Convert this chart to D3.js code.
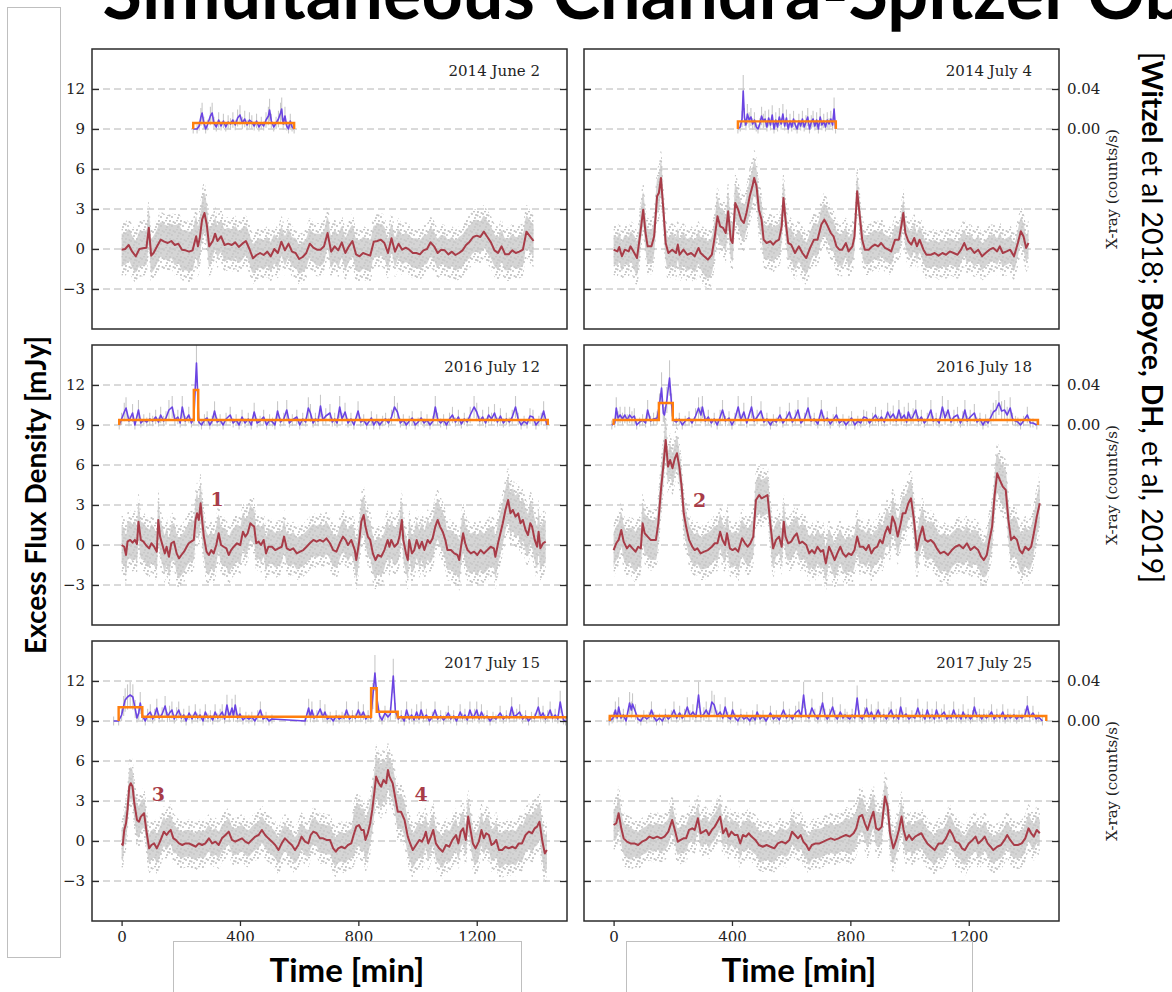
<!DOCTYPE html>
<html><head><meta charset="utf-8">
<script src="https://cdn.jsdelivr.net/npm/d3@7"></script>
<style>body{margin:0;background:#fff}svg{display:block}</style>
</head><body>
<svg id="chart" width="1172" height="992"></svg>
<script>
// ---------------- DATA ----------------
// Infrared excess flux density (mJy), running median: [time (min), flux]
const fluxJun2014 = [[0,-0.05],[12,0],[24,0.3],[36,-0.2],[48,-0.55],[60,0],[72,0.05],[84,0.1],[92,1.6],[100,-0.5],[108,-0.3],[120,0.2],[132,0.7],[144,0.55],[156,0.45],[168,0.6],[180,0.3],[192,0.4],[204,-0.05],[216,-0.1],[228,-0.2],[240,-0.1],[252,0.95],[258,0.2],[264,0.8],[272,2.2],[280,2.7],[288,1.8],[296,0.2],[308,0.6],[316,1.15],[324,0.6],[336,0.95],[348,0.3],[360,0.4],[372,0.3],[384,0.5],[396,0.15],[408,0.4],[420,0.6],[432,0],[444,-0.7],[456,-0.45],[468,-0.3],[480,-0.45],[492,-0.2],[504,-0.55],[516,0],[528,-0.3],[540,0.55],[552,-0.1],[564,0.4],[576,-0.2],[588,-0.3],[600,-0.75],[612,-0.6],[624,-0.3],[636,0.4],[648,0.1],[660,-0.05],[672,-0.05],[684,0.2],[696,1.2],[708,-0.2],[720,0.2],[732,-0.1],[744,0.5],[756,-0.3],[768,0.2],[780,0.6],[792,-0.4],[804,-0.55],[816,-0.3],[828,-0.4],[840,-0.5],[852,0.55],[864,0.6],[876,0.7],[888,0.45],[900,-0.3],[912,0.8],[924,-0.2],[936,0.4],[948,-0.05],[960,0.1],[972,-0.05],[984,-0.3],[996,-0.3],[1008,-0.4],[1020,-0.1],[1032,0],[1044,0.5],[1056,0.2],[1068,-0.3],[1080,-0.05],[1092,-0.1],[1104,-0.4],[1116,-0.2],[1128,-0.45],[1140,-0.3],[1152,-0.1],[1164,0.3],[1176,0.55],[1188,0.9],[1200,1.0],[1212,0.9],[1224,1.3],[1236,0.9],[1248,0.5],[1260,-0.1],[1272,-0.3],[1284,0.2],[1296,-0.4],[1308,-0.4],[1320,-0.1],[1332,-0.3],[1344,-0.2],[1356,-0.05],[1368,1.3],[1380,0.95],[1392,0.6]];
const fluxJul2014 = [[0,-0.05],[13,-0.18],[19,0.15],[28,-0.55],[38,-0.05],[51,-0.18],[57,0.2],[70,-0.3],[79,-0.68],[89,0.95],[100,2.95],[108,1.2],[115,0.2],[128,0.2],[137,0.95],[147,3.95],[153,4.2],[160,5.33],[169,2.7],[176,0.45],[185,-0.3],[198,-0.05],[211,-0.3],[217,0.33],[223,-0.43],[236,-0.05],[249,-0.43],[262,-0.3],[274,-0.55],[287,0.08],[294,-0.3],[306,-0.55],[319,-0.8],[332,-0.43],[342,0.95],[351,2.45],[360,1.7],[370,1.58],[379,1.2],[387,2.83],[396,0.7],[402,0.45],[411,3.45],[421,2.95],[431,2.2],[440,1.95],[449,2.7],[460,3.95],[469,4.7],[475,5.33],[483,4.7],[491,2.95],[500,2.2],[507,0.7],[517,0.45],[530,0.58],[539,0.33],[549,0.58],[559,0.7],[568,1.7],[574,3.83],[582,1.95],[590,0.45],[600,0.33],[613,-0.3],[626,0.2],[638,-0.3],[651,-0.68],[664,0.08],[677,0.7],[689,0.7],[702,1.83],[712,2.2],[721,1.83],[734,1.2],[743,0.95],[753,0.2],[763,-0.05],[772,-0.05],[785,0.45],[794,-0.18],[807,0.2],[814,0.95],[823,4.33],[832,2.45],[840,0.7],[849,-0.05],[862,-0.05],[874,0.2],[883,0.33],[894,0.2],[904,0.45],[917,0.08],[929,-0.05],[938,-0.18],[951,0.7],[964,0.7],[973,1.83],[979,2.7],[986,1.2],[996,0.58],[1006,0.33],[1016,0.83],[1025,0.2],[1034,0.7],[1047,-0.05],[1057,-0.43],[1072,-0.43],[1085,-0.3],[1098,-0.5],[1111,-0.3],[1123,-0.43],[1136,-0.18],[1149,-0.3],[1162,-0.43],[1174,-0.05],[1185,0.45],[1194,-0.05],[1206,0.08],[1219,-0.3],[1232,-0.05],[1245,-0.55],[1257,-0.3],[1270,-0.05],[1283,0.08],[1296,-0.18],[1305,0.2],[1315,-0.3],[1328,-0.18],[1340,-0.05],[1353,-0.55],[1366,0.45],[1376,1.33],[1385,0.95],[1394,0.08],[1402,0.45]];
const fluxJul12_2016 = [[0,0],[9,-0.13],[15,-0.75],[20,0.25],[29,0.38],[37,0.18],[45,0.38],[52,0.08],[57,1.75],[65,0.38],[74,0.25],[82,0],[93,-0.25],[101,0.13],[110,-0.13],[119,-0.5],[124,1.88],[130,0.63],[138,0],[146,-0.63],[152,-0.13],[160,-0.88],[168,0.13],[177,0.25],[186,-0.63],[194,-1.0],[202,-0.75],[211,-0.5],[220,-0.13],[227,0.13],[235,0.25],[244,0.38],[250,1.88],[255,2.38],[261,1.88],[267,3.13],[272,1.88],[278,0.63],[287,-0.5],[295,-0.75],[303,-0.38],[311,-0.63],[320,0],[328,0.88],[336,0],[345,-0.13],[354,-0.25],[362,-0.75],[370,-0.38],[379,-0.13],[390,0.13],[401,0],[410,1.0],[418,0.63],[426,0.88],[435,1.63],[441,1.5],[448,1.38],[455,0.13],[463,0.25],[471,0],[480,0.38],[488,-0.63],[496,-0.13],[508,-0.13],[519,-0.38],[530,-0.25],[541,-0.13],[549,0.63],[558,-0.25],[569,-0.38],[580,-0.25],[592,-0.63],[603,-0.5],[614,-0.38],[625,-0.13],[636,0.13],[648,0.38],[659,0.25],[670,0.38],[681,0.25],[692,0.5],[704,0.13],[715,-0.38],[726,-0.5],[737,0.13],[748,0.63],[757,0.38],[765,0],[776,0.38],[788,-0.38],[793,-1.13],[802,0.13],[810,1.75],[818,2.25],[824,1.38],[832,0.63],[840,0.38],[849,-0.63],[858,-1.13],[866,-0.75],[877,-0.88],[888,-0.38],[899,0.38],[905,-0.13],[911,0.38],[922,-0.13],[933,0.13],[939,0.63],[947,1.88],[952,0.38],[961,-0.63],[967,-1.13],[972,0.38],[981,-0.63],[989,-0.38],[997,0.38],[1006,-0.25],[1015,0.25],[1023,-0.38],[1034,0.38],[1042,0.13],[1051,0.5],[1060,1.38],[1068,1.88],[1076,1.38],[1085,1.0],[1094,0.38],[1101,-0.38],[1113,-0.38],[1124,-0.63],[1135,-0.75],[1141,-1.13],[1146,-0.25],[1154,0.88],[1161,0.13],[1169,-0.38],[1180,-0.63],[1191,-0.5],[1202,-0.75],[1213,-0.38],[1224,-0.63],[1236,-0.38],[1247,-0.13],[1258,-0.25],[1263,-0.88],[1272,0.13],[1280,0.88],[1288,1.63],[1297,2.63],[1306,3.38],[1314,2.38],[1322,2.63],[1331,2.13],[1340,2.38],[1348,1.63],[1356,1.88],[1365,1.13],[1373,0.75],[1381,1.63],[1387,1.38],[1396,0.38],[1404,-0.13],[1409,1.0],[1415,-0.25],[1424,0.13],[1433,0.25]];
const fluxJul18_2016 = [[0,-0.38],[9,0.13],[17,0.38],[26,1.13],[34,0.25],[45,-0.25],[54,0],[64,-0.25],[74,-0.5],[83,-0.13],[92,-0.25],[98,1.63],[105,0.88],[115,0.63],[125,0.38],[135,0.38],[143,0.38],[151,1.63],[160,4.13],[169,6.13],[176,7.88],[184,5.88],[191,6.38],[199,5.75],[207,6.5],[214,6.88],[222,5.88],[230,4.38],[237,2.38],[245,1.38],[255,0.38],[266,-0.13],[274,-0.38],[283,-0.25],[294,-0.63],[306,-0.5],[319,-0.38],[332,-0.13],[342,0.13],[351,0.13],[360,1.0],[368,0.38],[377,0],[383,0.88],[393,-0.25],[402,-0.38],[411,-0.25],[421,-0.5],[434,0.5],[444,0.13],[453,-0.13],[462,0.13],[472,0.63],[481,3.38],[492,3.75],[500,3.5],[511,3.63],[520,3.75],[530,1.5],[539,-0.25],[549,0.38],[559,0.63],[568,-0.13],[575,1.75],[581,0.63],[590,0.13],[600,0.25],[610,0.63],[619,0.88],[628,0.13],[638,0.25],[651,0],[661,-0.63],[670,-0.38],[679,-0.63],[689,-0.13],[700,-0.5],[708,-0.38],[717,-1.38],[728,-0.13],[738,-0.63],[747,-1.13],[756,-0.63],[766,-0.13],[775,-0.63],[785,-0.88],[794,-0.63],[804,-0.75],[814,-0.38],[823,0.63],[832,-0.13],[843,-0.13],[853,-0.38],[862,0],[871,-0.63],[881,-0.25],[891,-0.13],[900,0.38],[909,0.13],[917,0.88],[926,1.38],[934,0.88],[942,2.13],[951,1.63],[960,0.63],[968,1.38],[977,2.38],[986,2.38],[996,3.13],[1005,3.5],[1015,1.88],[1025,-0.38],[1034,0.63],[1044,1.38],[1053,0.38],[1062,0.25],[1072,0.38],[1083,0.13],[1092,-0.25],[1104,-0.63],[1117,-0.5],[1130,-0.75],[1143,-0.38],[1155,-0.13],[1168,0],[1181,-0.25],[1194,0.13],[1206,-0.38],[1219,-0.13],[1232,-0.38],[1242,-0.88],[1251,-1.13],[1261,-0.75],[1270,0.38],[1279,1.38],[1287,3.63],[1296,5.38],[1305,4.88],[1315,4.38],[1325,4.13],[1334,1.88],[1343,0.38],[1353,0.63],[1363,0.38],[1372,-0.38],[1381,-0.63],[1391,-0.13],[1402,-0.38],[1411,-0.13],[1420,0.88],[1430,2.13],[1440,3.13]];
const fluxJul15_2017 = [[0,-0.18],[4,-0.3],[9,0.83],[15,1.33],[20,2.33],[26,4.08],[31,4.33],[37,4.08],[43,2.83],[52,1.58],[59,1.45],[65,1.83],[76,2.08],[85,0.58],[93,-0.55],[101,-0.3],[110,-0.18],[119,-0.55],[127,-0.18],[134,0.2],[143,0.7],[152,0.45],[160,0.7],[166,0.83],[175,0.2],[183,0.08],[194,-0.18],[205,-0.3],[216,-0.18],[227,-0.18],[239,-0.3],[250,-0.43],[261,-0.18],[272,-0.3],[283,-0.18],[295,0.2],[306,-0.18],[317,-0.05],[328,-0.3],[339,0.2],[351,0.45],[362,0.7],[373,0.08],[384,-0.05],[396,0.08],[407,0.2],[418,-0.05],[429,-0.18],[440,0.08],[452,0.33],[463,0.45],[474,0.83],[485,0.45],[496,0.2],[508,-0.05],[519,-0.3],[530,-0.68],[541,-0.18],[552,0.2],[563,-0.05],[575,-0.3],[586,-0.68],[597,-0.3],[608,0.33],[620,-0.05],[631,-0.18],[639,0.45],[648,0.7],[659,0.58],[670,0.2],[681,0.2],[692,0.08],[704,0.08],[715,-0.55],[724,-0.8],[732,-0.55],[743,-0.43],[754,-0.55],[765,-0.3],[776,-0.18],[784,0.45],[793,1.08],[802,1.2],[810,0.83],[818,0.83],[824,0.08],[832,0.58],[840,1.33],[847,2.33],[855,3.83],[860,4.83],[869,4.33],[877,4.08],[885,4.58],[894,4.33],[900,5.33],[905,4.83],[916,4.33],[926,3.08],[933,2.2],[944,2.2],[956,1.58],[967,0.33],[975,-0.18],[984,-0.68],[995,-0.3],[1006,0.08],[1015,-0.05],[1023,0.33],[1028,0.7],[1036,-0.18],[1045,0.33],[1053,0.83],[1062,-0.18],[1073,-0.55],[1085,-0.8],[1096,-0.3],[1107,-0.43],[1118,0.08],[1130,0.45],[1138,-0.18],[1146,0.7],[1154,0.95],[1163,0.08],[1171,1.83],[1179,0.83],[1187,-0.18],[1196,-0.55],[1207,-0.05],[1216,0.83],[1224,0.2],[1232,0.58],[1241,0.45],[1250,-0.3],[1258,-0.18],[1266,0.08],[1275,-0.68],[1286,-0.68],[1297,-0.43],[1308,-0.55],[1320,-0.43],[1331,-0.55],[1342,-0.18],[1353,-0.18],[1365,0.45],[1376,0.7],[1387,0.58],[1396,0.95],[1404,1.08],[1412,1.45],[1421,0.08],[1430,-0.93],[1437,-0.68]];
const fluxJul25_2017 = [[0,1.2],[9,1.33],[17,2.08],[26,0.95],[34,0.2],[45,-0.05],[57,-0.18],[70,-0.18],[83,-0.3],[96,-0.05],[109,0.08],[121,0.33],[134,0.2],[147,0.33],[160,0.2],[172,0.33],[185,0.7],[198,1.58],[207,0.83],[217,-0.05],[227,0.08],[236,0.2],[245,0.2],[255,0.83],[266,0.95],[274,0.83],[285,1.7],[294,0.58],[304,0.7],[313,0.83],[322,0.45],[332,0.83],[342,1.08],[351,1.45],[360,1.83],[370,0.58],[380,0.95],[389,0.33],[398,0.7],[409,0.45],[419,0.45],[428,-0.18],[437,0.45],[447,0.33],[457,0.58],[466,0.33],[479,0.08],[491,-0.3],[504,-0.43],[517,-0.3],[530,-0.43],[543,-0.55],[555,-0.18],[568,-0.05],[581,-0.18],[594,0.08],[603,0.7],[613,0.45],[623,0.2],[632,0.45],[641,-0.05],[651,-0.3],[660,-0.68],[670,-0.3],[683,-0.18],[696,-0.18],[709,-0.05],[721,0.08],[734,0.2],[747,0.08],[760,0.2],[772,0.33],[785,0.45],[798,0.33],[811,0.58],[820,0.95],[830,1.83],[840,1.95],[849,1.33],[858,0.83],[868,1.58],[878,2.2],[887,0.95],[896,0.83],[906,1.08],[917,3.33],[926,2.58],[934,0.58],[945,-0.55],[955,0.08],[964,0.83],[973,1.83],[980,0.83],[989,0.08],[998,0.45],[1009,0.08],[1019,0.33],[1028,0.45],[1040,0.58],[1049,0.2],[1060,-0.18],[1072,-0.43],[1085,-0.68],[1098,-0.18],[1111,-0.18],[1123,0.2],[1136,0.83],[1146,0.45],[1155,-0.05],[1168,-0.18],[1177,-0.55],[1187,-0.68],[1200,-0.18],[1213,0.08],[1223,0.33],[1232,-0.18],[1245,0.08],[1254,0.33],[1264,-0.18],[1274,-0.43],[1283,-0.68],[1296,-0.43],[1309,-0.3],[1321,0.08],[1330,0.45],[1340,0.08],[1353,-0.3],[1366,-0.3],[1379,-0.18],[1391,0.2],[1402,0.95],[1411,0.58],[1420,0.33],[1430,0.83],[1440,0.58]];

// Half-width (mJy) of the grey cloud of individual measurements, every 120 min (0..1440)
const spreadJun2014   = [1.2,1.3,1.5,1.2,1.1,1.1,1.2,1.2,1.1,1.1,1.2,1.2,1.2];
const spreadJul2014   = [1.1,1.3,1.2,1.4,1.3,1.2,1.2,1.1,1.0,1.0,1.0,1.0,1.0];
const spreadJul12_2016= [1.4,1.4,1.5,1.4,1.3,1.2,1.2,1.4,1.4,1.5,1.5,1.6,1.6];
const spreadJul18_2016= [1.3,1.5,1.2,1.3,1.4,1.3,1.3,1.3,1.3,1.4,1.3,1.5,1.5];
const spreadJul15_2017= [1.2,1.1,1.0,1.0,1.0,1.0,1.1,1.6,1.3,1.2,1.2,1.3,1.4];
const spreadJul25_2017= [1.2,1.0,1.0,1.0,1.1,1.0,1.1,1.3,1.1,1.1,1.1,1.0,1.0];

// X-ray count rate (counts/s): [time (min), rate]
const xrayJun2014 = [[242,0],[255,0],[262,0.003],[268,0.012],[272,0.016],[278,0.006],[284,0],[290,0.004],[300,0.013],[306,0.016],[312,0.006],[320,0.002],[328,0.009],[336,0.003],[344,0.008],[352,0.002],[360,0.007],[368,0.005],[376,0.009],[384,0.004],[392,0.011],[400,0.014],[408,0.006],[416,0.01],[424,0.004],[432,0.009],[440,0.007],[448,0.003],[456,0.008],[464,0.002],[472,0.006],[480,0.003],[488,0.009],[496,0.013],[500,0.019],[506,0.008],[514,0.002],[522,0.006],[530,0.01],[537,0.016],[541,0.02],[546,0.005],[552,0.013],[558,0.003],[564,0],[570,0.008],[576,0.002],[583,0]];
const xrayJul2014 = [[420,0],[428,0.002],[434,0.01],[438,0.038],[442,0.012],[447,0.004],[452,0.015],[458,0.009],[464,0.012],[470,0.005],[476,0.009],[482,0.002],[488,0],[494,0.005],[500,0.013],[506,0.008],[512,0.01],[518,0.002],[524,0.011],[530,0.004],[536,0.014],[542,0],[548,0.009],[554,0.002],[560,0.012],[566,0.005],[572,0.015],[578,0.003],[584,0.011],[590,0],[596,0.008],[602,0.002],[608,0.01],[614,0.004],[620,0],[626,0.008],[632,0.003],[638,0.01],[644,0.002],[650,0.007],[656,0.012],[662,0],[668,0.007],[674,0.01],[680,0.003],[686,0.009],[692,0],[698,0.012],[704,0.004],[710,0.008],[716,0.002],[722,0.009],[728,0.005],[734,0.01],[740,0.004],[745,0.02],[750,0]];
const xrayJul12_2016 = [[-8,0],[0,0.006],[9,0.013],[15,0.017],[25,0.004],[37,0.012],[45,0],[57,0.015],[65,0.002],[75,0.005],[85,0.003],[95,0.006],[105,0.004],[115,0.008],[125,0.003],[132,0.01],[142,0.004],[150,0.007],[160,0.015],[171,0.018],[180,0.005],[190,0.008],[198,0.002],[205,0.018],[215,0.004],[227,0.01],[236,0.002],[244,0.007],[253,0.062],[261,0.003],[270,0],[280,0.005],[289,0.007],[298,0],[306,0.004],[314,0.014],[323,0.003],[333,0.005],[343,0],[353,0.006],[367,0.01],[377,0.002],[387,0.005],[397,0],[407,0.008],[417,0.002],[428,0.006],[438,0],[448,0.013],[458,0.002],[468,0.004],[480,0.008],[490,0],[500,0.005],[510,0.003],[518,0],[527,0.014],[537,0.003],[548,0.006],[558,0.015],[567,0.002],[577,0.005],[592,0.008],[602,0],[612,0.006],[622,0.003],[631,0.017],[638,0.012],[647,0.002],[655,0.006],[664,0.004],[672,0.019],[680,0.005],[690,0.009],[704,0.012],[712,0.003],[720,0.006],[728,0.002],[737,0.018],[745,0.006],[755,0.013],[765,0.002],[775,0.006],[785,0],[799,0.014],[808,0.003],[818,0.005],[828,0],[844,0.007],[852,0],[862,0.005],[872,0],[882,0.004],[892,0.006],[902,0.002],[912,0.008],[922,0.018],[932,0.013],[942,0.002],[952,0.005],[962,0],[972,0.004],[982,0.007],[992,0],[1002,0.003],[1012,0.007],[1022,0.002],[1032,0.005],[1042,0],[1052,0.004],[1060,0.018],[1068,0.006],[1078,0.002],[1088,0.005],[1098,0],[1108,0.006],[1118,0.01],[1128,0.003],[1138,0.008],[1148,0.001],[1158,0.006],[1168,0.003],[1178,0.01],[1191,0.018],[1200,0.013],[1210,0.004],[1220,0.008],[1230,0.002],[1240,0.01],[1250,0.006],[1260,0.012],[1270,0.003],[1280,0.009],[1290,0.002],[1300,0.006],[1310,0.003],[1320,0.008],[1331,0.018],[1340,0.006],[1350,0],[1360,0.004],[1370,0.001],[1380,0.009],[1390,0.008],[1400,0],[1410,0.004],[1418,0.006],[1426,0.014],[1437,0]];
const xrayJul18_2016 = [[-6,0],[4,0.002],[9,0.017],[15,0.007],[22,0.01],[30,0.006],[38,0.01],[46,0.005],[54,0.01],[62,0.007],[70,0.009],[78,0],[88,0.003],[98,0.005],[108,0.002],[115,0.015],[125,0.004],[135,0.006],[147,0.007],[155,0.02],[162,0.037],[168,0.012],[172,0.01],[180,0.025],[189,0.047],[196,0.02],[202,0.005],[212,0.003],[222,0.006],[232,0],[242,0.004],[255,0.007],[265,0.002],[277,0.009],[287,0.017],[295,0.01],[300,0.018],[310,0.004],[320,0.008],[330,0.002],[340,0.006],[350,0],[360,0.008],[368,0.015],[378,0.004],[390,0.007],[400,0],[410,0.006],[421,0.018],[430,0.005],[440,0.013],[450,0.002],[466,0.018],[475,0.004],[485,0.008],[498,0.014],[508,0.003],[518,0.006],[530,0],[540,0.005],[550,0.003],[562,0.01],[572,0.002],[584,0.007],[594,0.013],[604,0.003],[614,0.008],[623,0.015],[633,0.002],[645,0.006],[657,0.017],[667,0.004],[678,0.006],[690,0.001],[702,0.015],[712,0.004],[722,0.007],[732,0.001],[742,0.005],[753,0.01],[763,0.002],[775,0.005],[785,0],[795,0.004],[804,0.007],[815,0],[825,0.004],[835,0.002],[845,0.008],[855,0.007],[865,0.002],[875,0.006],[885,0.01],[895,0.004],[905,0.008],[915,0.003],[926,0.013],[935,0.007],[945,0.011],[955,0.004],[964,0.015],[972,0.006],[982,0.01],[990,0.003],[996,0.013],[1005,0.005],[1012,0.009],[1021,0.015],[1030,0.004],[1040,0.008],[1050,0.002],[1060,0.006],[1072,0.015],[1080,0.004],[1090,0.006],[1100,0.002],[1111,0.018],[1120,0.007],[1130,0.015],[1140,0.003],[1150,0.008],[1162,0.01],[1172,0.002],[1180,0.007],[1187,0.015],[1195,0.004],[1205,0.008],[1219,0.012],[1228,0.003],[1238,0.006],[1248,0],[1257,0.005],[1265,0.002],[1275,0.008],[1283,0.013],[1292,0.015],[1302,0.022],[1311,0.014],[1321,0.015],[1330,0.01],[1340,0.017],[1348,0.006],[1358,0.004],[1366,0.003],[1375,0],[1385,0.004],[1398,0.01],[1408,0.002],[1417,0.002],[1430,0]];
const xrayJul15_2017 = [[-27,0],[-10,0],[0,0.006],[7,0.015],[12,0.021],[20,0.024],[29,0.026],[38,0.024],[46,0.012],[52,0.003],[58,0.008],[63,0.018],[71,0.005],[80,0],[88,0.006],[97,0.009],[105,0.002],[112,0.006],[119,0.013],[127,0.003],[137,0.007],[147,0.015],[155,0.004],[162,0.008],[170,0.011],[178,0.002],[186,0.007],[193,0.011],[202,0.003],[210,0.006],[218,0],[228,0.008],[238,0.002],[249,0.009],[257,0.003],[265,0.006],[275,0],[283,0.009],[292,0.003],[300,0.005],[308,0.001],[316,0.009],[325,0.003],[333,0.006],[340,0.009],[348,0.002],[356,0.016],[364,0.004],[373,0.013],[378,0.005],[384,0.016],[392,0.003],[400,0.007],[410,0.001],[420,0.004],[430,0.002],[440,0.004],[450,0],[460,0.005],[469,0.011],[478,0.002],[488,0.004],[498,0],[508,0.002],[620,0],[632,0.013],[638,0.004],[643,0.011],[650,0.003],[660,0.005],[671,0.012],[680,0.004],[687,0.009],[695,0.002],[705,0.004],[715,0],[725,0.005],[735,0.002],[745,0.004],[752,0.003],[760,0.011],[770,0.002],[780,0.005],[790,0.003],[800,0.011],[808,0.004],[817,0.009],[825,0.002],[833,0.005],[842,0.003],[849,0.025],[856,0.048],[864,0.02],[872,0.005],[880,0.001],[890,0.008],[900,0.004],[908,0.007],[918,0.045],[925,0.01],[935,0.002],[945,0.005],[955,0],[963,0.011],[972,0.002],[980,0.006],[988,0.001],[997,0.009],[1005,0.002],[1012,0.011],[1020,0.003],[1030,0.006],[1040,0],[1050,0.004],[1059,0.011],[1068,0.002],[1078,0.005],[1088,0.001],[1096,0.004],[1104,0.008],[1112,0.002],[1122,0.005],[1132,0],[1144,0.009],[1152,0.003],[1160,0.006],[1168,0.001],[1177,0.011],[1186,0.003],[1193,0.006],[1200,0.011],[1208,0.002],[1216,0.009],[1225,0.003],[1235,0.005],[1245,0],[1255,0.004],[1265,0.002],[1279,0.008],[1290,0.002],[1300,0.005],[1310,0.003],[1318,0.014],[1326,0.004],[1335,0.006],[1345,0.009],[1355,0.002],[1365,0.005],[1375,0],[1385,0.004],[1395,0.003],[1408,0.014],[1416,0.004],[1424,0.008],[1432,0.002],[1440,0.005],[1448,0.011],[1456,0.003],[1465,0.006],[1474,0.002],[1482,0.019],[1493,0.001],[1500,0]];
const xrayJul25_2017 = [[-15,0],[-5,0.002],[0,0.004],[6,0.011],[12,0.003],[17,0.014],[25,0.003],[33,0.006],[42,0],[54,0.018],[60,0.011],[64,0.017],[74,0.009],[82,0.002],[92,0],[102,0.005],[112,0.002],[120,0.004],[128,0.011],[136,0.004],[145,0],[155,0.003],[165,0],[175,0.006],[185,0.002],[195,0.005],[204,0.011],[213,0.003],[223,0.008],[232,0.003],[240,0.006],[249,0.014],[258,0.005],[268,0.009],[278,0.004],[287,0.026],[295,0.004],[305,0.007],[313,0.011],[322,0.005],[332,0.019],[340,0.016],[350,0.005],[360,0.009],[369,0.003],[377,0.014],[386,0.004],[395,0.002],[402,0.011],[411,0.003],[420,0],[430,0.006],[440,0.002],[450,0.004],[460,0],[470,0.005],[478,0.001],[485,0.009],[495,0.002],[505,0.005],[515,0],[530,0.008],[540,0.002],[550,0.005],[560,0.001],[574,0.011],[584,0.003],[594,0.006],[604,0.002],[615,0.008],[626,0.011],[634,0.004],[642,0.026],[650,0.006],[660,0.003],[670,0.013],[680,0.006],[690,0.002],[698,0.008],[706,0.018],[714,0.006],[722,0.002],[730,0.006],[740,0.014],[748,0.005],[756,0.002],[766,0.009],[775,0.003],[782,0.006],[789,0.004],[798,0.002],[806,0.006],[815,0.003],[823,0.023],[830,0.005],[840,0.002],[848,0.007],[855,0.013],[863,0.004],[871,0.009],[880,0.002],[887,0.006],[894,0.011],[902,0.004],[913,0.006],[922,0.002],[930,0.007],[938,0.011],[946,0.003],[955,0.006],[963,0.002],[970,0.014],[978,0.004],[988,0.007],[998,0.002],[1008,0.005],[1018,0.003],[1028,0.013],[1036,0.004],[1044,0.006],[1052,0.002],[1060,0.011],[1068,0.003],[1076,0.006],[1084,0.002],[1091,0.011],[1100,0.003],[1108,0.006],[1117,0.009],[1126,0.002],[1134,0.005],[1141,0.003],[1149,0.011],[1158,0.003],[1166,0.006],[1174,0.002],[1181,0.009],[1190,0.003],[1198,0.006],[1206,0.002],[1213,0.005],[1219,0.014],[1228,0.004],[1236,0.006],[1244,0.002],[1251,0.006],[1260,0.003],[1268,0.005],[1277,0.009],[1286,0.002],[1295,0.006],[1305,0.003],[1315,0.009],[1323,0.002],[1332,0.006],[1340,0.003],[1353,0.006],[1362,0.002],[1370,0.005],[1380,0.003],[1390,0.006],[1398,0.015],[1406,0.004],[1417,0.008],[1428,0.002],[1436,0.004],[1449,0]];

// Bayesian-block representation of the X-ray rate: block edges (min) and block levels (counts/s)
const blockEdgesJun2014 = [242, 583];            const blockLevelsJun2014 = [0.006];
const blockEdgesJul2014 = [420, 751];            const blockLevelsJul2014 = [0.0076];
const blockEdgesJul12_2016 = [-8, 244, 259, 1440]; const blockLevelsJul12_2016 = [0.005, 0.035, 0.005];
const blockEdgesJul18_2016 = [0, 153, 200, 1434];  const blockLevelsJul18_2016 = [0.005, 0.022, 0.005];
const blockEdgesJul15_2017 = [-10, 70, 843, 862, 933, 1530]; const blockLevelsJul15_2017 = [0.0137, 0.0043, 0.0327, 0.0093, 0.0037];
const blockEdgesJul25_2017 = [-13, 1462];         const blockLevelsJul25_2017 = [0.005];

const dateLabels = ["2014 June 2", "2014 July 4", "2016 July 12", "2016 July 18", "2017 July 15", "2017 July 25"];
const flareNames = ["1", "2", "3", "4"];
const flarePanel = [2, 3, 4, 4];
const flareTime  = [323, 291, 124, 1012];
const flareFlux  = [3.45, 3.4, 3.5, 3.5];

const fluxTicks = [-3, 0, 3, 6, 9, 12];
const xrayTicks = [0.00, 0.04];
const timeTicks = [0, 400, 800, 1200];

// ---------------- LAYOUT ----------------
const svg = d3.select("#chart");
const colX = [92, 584], rowY = [49, 345, 641], PW = 475, PH = 280;
const RED = "#a83c48", PURPLE = "#6b44e2", ORANGE = "#ff7f0e", GRID = "#b4b4b4", FRAME = "#2b2b2b";
const SERIF = "'DejaVu Serif', serif", SANS = "Lato, 'Open Sans', sans-serif";

const x = d3.scaleLinear().domain([-100, 1505]).range([0, PW]);
const y = d3.scaleLinear().domain([-6, 15]).range([PH, 0]);
const yx = d3.scaleLinear().domain([-0.2, 0.08]).range([PH, 0]);   // 0 c/s -> 9 mJy, 0.04 c/s -> 12 mJy

const defs = svg.append("defs");
const pat = defs.append("pattern").attr("id", "dots").attr("patternUnits", "userSpaceOnUse")
  .attr("width", 11).attr("height", 9);
[[1,1],[6,3],[3,6],[9,7],[8,0.5],[0.5,4.5],[4.5,2],[10,4]].forEach(([a,b]) =>
  pat.append("circle").attr("cx", a).attr("cy", b).attr("r", 1.05).attr("fill", "#c2c2c2"));

const panels = [
  {flux: fluxJun2014, spread: spreadJun2014, xray: xrayJun2014, edges: blockEdgesJun2014, levels: blockLevelsJun2014},
  {flux: fluxJul2014, spread: spreadJul2014, xray: xrayJul2014, edges: blockEdgesJul2014, levels: blockLevelsJul2014},
  {flux: fluxJul12_2016, spread: spreadJul12_2016, xray: xrayJul12_2016, edges: blockEdgesJul12_2016, levels: blockLevelsJul12_2016},
  {flux: fluxJul18_2016, spread: spreadJul18_2016, xray: xrayJul18_2016, edges: blockEdgesJul18_2016, levels: blockLevelsJul18_2016},
  {flux: fluxJul15_2017, spread: spreadJul15_2017, xray: xrayJul15_2017, edges: blockEdgesJul15_2017, levels: blockLevelsJul15_2017},
  {flux: fluxJul25_2017, spread: spreadJul25_2017, xray: xrayJul25_2017, edges: blockEdgesJul25_2017, levels: blockLevelsJul25_2017}
];

// ---------------- TITLE (behind the label box, cut at the top edge) ----------------
const titleSize = 72;
const measure = svg.append("text").attr("font-family", SANS).attr("font-weight", 700).attr("font-size", titleSize).text("Simultaneous ");
const prefixW = measure.node().getComputedTextLength();
measure.remove();
svg.append("text").attr("x", 535 - prefixW).attr("y", 19)
  .attr("font-family", SANS).attr("font-weight", 700).attr("font-size", titleSize).attr("fill", "#000")
  .text("Simultaneous Chandra-Spitzer Observations");

panels.forEach((p, i) => {
  const col = i % 2, row = Math.floor(i / 2);
  const g = svg.append("g").attr("transform", `translate(${colX[col]},${rowY[row]})`);
  const cid = "clip" + i;
  defs.append("clipPath").attr("id", cid).append("rect").attr("width", PW).attr("height", PH);
  g.append("rect").attr("width", PW).attr("height", PH).attr("fill", "#fff");
  const plot = g.append("g").attr("clip-path", `url(#${cid})`);

  // grid
  plot.selectAll(".grid").data(fluxTicks).join("line")
    .attr("x1", 0).attr("x2", PW).attr("y1", d => y(d)).attr("y2", d => y(d))
    .attr("stroke", GRID).attr("stroke-width", 1).attr("stroke-dasharray", "7,4");

  // grey cloud of measurements
  const sp = t => p.spread[Math.max(0, Math.min(p.spread.length - 1, Math.round(t / 120)))];
  plot.append("path").datum(p.flux)
    .attr("d", d3.area().x(d => x(d[0])).y0(d => y(d[1] - sp(d[0]) - 0.8)).y1(d => y(d[1] + sp(d[0]) + 0.8)).curve(d3.curveMonotoneX))
    .attr("fill", "url(#dots)");
  plot.append("path").datum(p.flux)
    .attr("d", d3.area().x(d => x(d[0])).y0(d => y(d[1] - sp(d[0]))).y1(d => y(d[1] + sp(d[0]))).curve(d3.curveMonotoneX))
    .attr("fill", "#c9c9c9").attr("fill-opacity", 0.78);

  // red running median
  plot.append("path").datum(p.flux)
    .attr("d", d3.line().x(d => x(d[0])).y(d => y(d[1])))
    .attr("fill", "none").attr("stroke", RED).attr("stroke-width", 2).attr("stroke-linejoin", "round");

  // X-ray error bars (Poisson, derived from plotted rate)
  plot.selectAll(".err").data(p.xray).join("line")
    .attr("x1", d => x(d[0])).attr("x2", d => x(d[0]))
    .attr("y1", d => yx(d[1] - Math.sqrt(Math.max(d[1], 0.003) / 150)))
    .attr("y2", d => yx(d[1] + Math.sqrt(Math.max(d[1], 0.003) / 150)))
    .attr("stroke", "#c8c8c8").attr("stroke-width", 1.1);

  // X-ray light curve
  plot.append("path").datum(p.xray)
    .attr("d", d3.line().x(d => x(d[0])).y(d => yx(d[1])))
    .attr("fill", "none").attr("stroke", PURPLE).attr("stroke-width", 1.6).attr("stroke-linejoin", "round");

  // Bayesian blocks
  const steps = [[p.edges[0], 0]];
  p.levels.forEach((lv, k) => { steps.push([p.edges[k], lv]); steps.push([p.edges[k + 1], lv]); });
  steps.push([p.edges[p.edges.length - 1], 0]);
  plot.append("path").datum(steps)
    .attr("d", d3.line().x(d => x(d[0])).y(d => yx(d[1])))
    .attr("fill", "none").attr("stroke", ORANGE).attr("stroke-width", 2.4);

  // frame
  g.append("rect").attr("width", PW).attr("height", PH).attr("fill", "none").attr("stroke", FRAME).attr("stroke-width", 1.5);

  // y axes (ticks pointing inward)
  const yl = g.append("g").call(d3.axisLeft(y).tickValues(fluxTicks).tickSize(-7).tickPadding(7)
    .tickFormat(col === 0 ? (d => d < 0 ? "\u2212" + Math.abs(d) : String(d)) : () => ""));
  const yr = g.append("g").attr("transform", `translate(${PW},0)`)
    .call(d3.axisRight(y).tickValues(fluxTicks).tickSize(-7).tickFormat(() => ""));
  [yl, yr].forEach(a => { a.select(".domain").remove(); a.selectAll("line").attr("stroke", FRAME).attr("stroke-width", 1.3); });
  yl.selectAll("text").attr("font-family", SERIF).attr("font-size", 15).attr("fill", "#222");

  if (col === 1) {
    const ax = g.append("g").attr("transform", `translate(${PW},0)`)
      .call(d3.axisRight(yx).tickValues(xrayTicks).tickSize(0).tickPadding(8).tickFormat(d3.format(".2f")));
    ax.select(".domain").remove();
    ax.selectAll("text").attr("font-family", SERIF).attr("font-size", 15).attr("fill", "#222");
    g.append("text").attr("transform", `translate(${PW + 53},${PH / 2}) rotate(-90)`)
      .attr("text-anchor", "middle").attr("dominant-baseline", "central")
      .attr("font-family", SERIF).attr("font-size", 15).attr("fill", "#222").text("X-ray (counts/s)");
  }

  if (row === 2) {
    const xa = g.append("g").attr("transform", `translate(0,${PH})`)
      .call(d3.axisBottom(x).tickValues(timeTicks).tickSize(5).tickPadding(5).tickFormat(d3.format("d")));
    xa.select(".domain").remove();
    xa.selectAll("line").attr("stroke", FRAME).attr("stroke-width", 1.3);
    xa.selectAll("text").attr("font-family", SERIF).attr("font-size", 15).attr("fill", "#222");
  }

  // date label
  g.append("text").attr("x", PW - 27).attr("y", 27).attr("text-anchor", "end")
    .attr("font-family", SERIF).attr("font-size", 15).attr("fill", "#222").text(dateLabels[i]);

  // flare numbers
  flareNames.forEach((nm, k) => {
    if (flarePanel[k] !== i) return;
    g.append("text").attr("x", x(flareTime[k])).attr("y", y(flareFlux[k]))
      .attr("text-anchor", "middle").attr("dominant-baseline", "central")
      .attr("font-family", SERIF).attr("font-weight", 700).attr("font-size", 19).attr("fill", RED).text(nm);
  });
});

// ---------------- OVERLAID SLIDE TEXT ----------------
svg.append("rect").attr("x", 7.5).attr("y", 7.5).attr("width", 53).attr("height", 950)
  .attr("fill", "#fff").attr("stroke", "#bfbfbf").attr("stroke-width", 1);
svg.append("text").attr("transform", "translate(35,495) rotate(-90)")
  .attr("text-anchor", "middle").attr("dominant-baseline", "central")
  .attr("font-family", SANS).attr("font-weight", 700).attr("font-size", 28).attr("fill", "#000")
  .text("Excess Flux Density [mJy]");

[[173, 348, 347], [626, 346, 799]].forEach(([bx, bw, cx]) => {
  svg.append("rect").attr("x", bx + 0.5).attr("y", 941.5).attr("width", bw).attr("height", 70)
    .attr("fill", "#fff").attr("stroke", "#bfbfbf").attr("stroke-width", 1);
  svg.append("text").attr("x", cx).attr("y", 982).attr("text-anchor", "middle")
    .attr("font-family", SANS).attr("font-weight", 700).attr("font-size", 33).attr("fill", "#000")
    .text("Time [min]");
});

const cite = svg.append("text").attr("transform", "translate(1142,52) rotate(90)")
  .attr("font-family", SANS).attr("font-size", 28.5).attr("fill", "#000");
cite.append("tspan").text("[");
cite.append("tspan").attr("font-weight", 700).text("Witzel");
cite.append("tspan").text(" et al 2018; ");
cite.append("tspan").attr("font-weight", 700).text("Boyce, DH");
cite.append("tspan").text(", et al, 2019]");
</script>
</body></html>
